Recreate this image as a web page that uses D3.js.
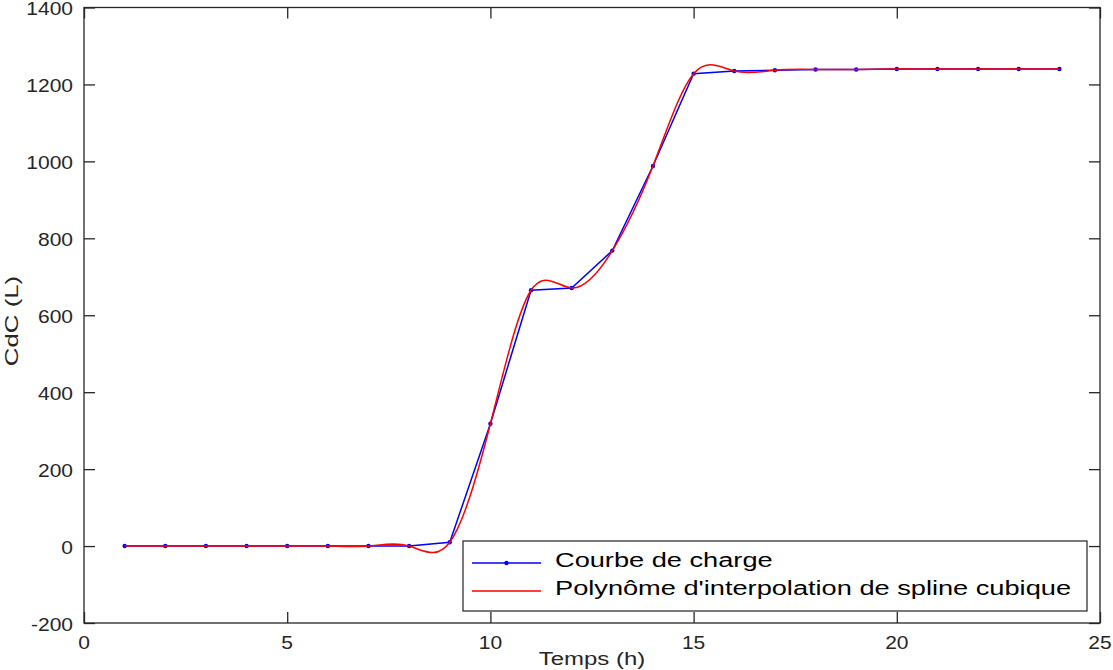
<!DOCTYPE html>
<html>
<head>
<meta charset="utf-8">
<script src="https://cdn.jsdelivr.net/npm/d3@7"></script>
<style>
  html, body { margin: 0; padding: 0; background: #fff; }
  svg { display: block; font-family: "Liberation Sans", Arial, sans-serif; }
</style>
</head>
<body>
<svg id="chart" width="1113" height="670"></svg>
<script>
// Hourly load curve (CdC, litres)
const hours = [1, 2, 3, 4, 5, 6, 7, 8, 9, 10, 11, 12, 13, 14, 15, 16, 17, 18, 19, 20, 21, 22, 23, 24];
const charge = [0, 0, 0, 0, 0, 0, 0, 0, 10, 318, 665, 671, 768, 988, 1228, 1235, 1237, 1239, 1239, 1240, 1240, 1240, 1240, 1240];

const xTicks = [0, 5, 10, 15, 20, 25];
const yTicks = [-200, 0, 200, 400, 600, 800, 1000, 1200, 1400];

const legendLabels = ["Courbe de charge", "Polynôme d'interpolation de spline cubique"];

const svg = d3.select("#chart");
const plot = { left: 84, right: 1100, top: 7.5, bottom: 623 };

const x = d3.scaleLinear().domain([0, 25]).range([plot.left, plot.right]);
const y = d3.scaleLinear().domain([-200, 1400]).range([plot.bottom, plot.top]);

const axisColor = "#262626";
const tickLen = 11;

// clip marks to the axes box
svg.append("defs").append("clipPath").attr("id", "clip")
  .append("rect")
  .attr("x", plot.left).attr("y", plot.top)
  .attr("width", plot.right - plot.left).attr("height", plot.bottom - plot.top);

const pts = hours.map((h, i) => [h, charge[i]]);

// piecewise-linear load curve with dot markers
const marks = svg.append("g").attr("clip-path", "url(#clip)");
marks.append("path")
  .datum(pts)
  .attr("fill", "none")
  .attr("stroke", "#0000ff")
  .attr("stroke-width", 1.5)
  .attr("d", d3.line().x(d => x(d[0])).y(d => y(d[1])));

marks.selectAll("circle.pt")
  .data(pts)
  .join("circle")
  .attr("class", "pt")
  .attr("cx", d => x(d[0]))
  .attr("cy", d => y(d[1]))
  .attr("r", 2.2)
  .attr("fill", "#0000ff");

// cubic spline through the same points
marks.append("path")
  .datum(pts)
  .attr("fill", "none")
  .attr("stroke", "#ff0000")
  .attr("stroke-width", 1.5)
  .attr("d", d3.line().curve(d3.curveNatural).x(d => x(d[0])).y(d => y(d[1])));

// axes box with inward ticks on all four sides
const axes = svg.append("g");
axes.append("rect")
  .attr("x", plot.left).attr("y", plot.top)
  .attr("width", plot.right - plot.left).attr("height", plot.bottom - plot.top)
  .attr("fill", "none").attr("stroke", axisColor).attr("stroke-width", 1.3);

const bottomAxis = d3.axisBottom(x).tickValues(xTicks).tickSize(-tickLen).tickFormat("");
const topAxis = d3.axisTop(x).tickValues(xTicks).tickSize(-tickLen).tickFormat("");
const leftAxis = d3.axisLeft(y).tickValues(yTicks).tickSize(-tickLen).tickFormat("");
const rightAxis = d3.axisRight(y).tickValues(yTicks).tickSize(-tickLen).tickFormat("");

[[bottomAxis, `translate(0,${plot.bottom})`], [topAxis, `translate(0,${plot.top})`],
 [leftAxis, `translate(${plot.left},0)`], [rightAxis, `translate(${plot.right},0)`]].forEach(([ax, tr]) => {
  const g = axes.append("g").attr("transform", tr).call(ax);
  g.select(".domain").remove();
  g.selectAll(".tick line").attr("stroke", axisColor).attr("stroke-width", 1.3);
});

// tick labels
const tickFont = 17.5, tickStretch = 1.2;
axes.selectAll("text.xt")
  .data(xTicks)
  .join("text")
  .attr("class", "xt")
  .attr("transform", d => `translate(${x(d)},649) scale(${tickStretch},1)`)
  .attr("text-anchor", "middle")
  .attr("font-size", tickFont)
  .attr("fill", axisColor)
  .text(d => d);

axes.selectAll("text.yt")
  .data(yTicks)
  .join("text")
  .attr("class", "yt")
  .attr("transform", d => `translate(73,${y(d) + 7.5}) scale(${tickStretch},1)`)
  .attr("text-anchor", "end")
  .attr("font-size", tickFont)
  .attr("fill", axisColor)
  .text(d => d);

// axis titles
axes.append("text")
  .attr("transform", `translate(${x(12.5)},665) scale(1.26,1)`)
  .attr("text-anchor", "middle")
  .attr("font-size", 19)
  .attr("fill", axisColor)
  .text("Temps (h)");

axes.append("text")
  .attr("transform", `translate(17.5,321) rotate(-90) scale(1.36,1)`)
  .attr("text-anchor", "middle")
  .attr("font-size", 19)
  .attr("fill", axisColor)
  .text("CdC (L)");

// legend
const legend = svg.append("g");
legend.append("rect")
  .attr("x", 463).attr("y", 541)
  .attr("width", 1087 - 463).attr("height", 611 - 541)
  .attr("fill", "#fff").attr("stroke", "#333").attr("stroke-width", 1.3);

const rows = [
  { label: legendLabels[0], color: "#0000ff", marker: true, y: 563 },
  { label: legendLabels[1], color: "#ff0000", marker: false, y: 591 }
];
rows.forEach(r => {
  legend.append("line")
    .attr("x1", 472).attr("x2", 541)
    .attr("y1", r.y).attr("y2", r.y)
    .attr("stroke", r.color).attr("stroke-width", 1.5);
  if (r.marker) {
    legend.append("circle").attr("cx", 506.5).attr("cy", r.y).attr("r", 2.2).attr("fill", r.color);
  }
  legend.append("text")
    .attr("transform", `translate(555,${r.y + 4}) scale(1.36,1)`)
    .attr("font-size", 20)
    .attr("fill", "#000")
    .text(r.label);
});
</script>
</body>
</html>
